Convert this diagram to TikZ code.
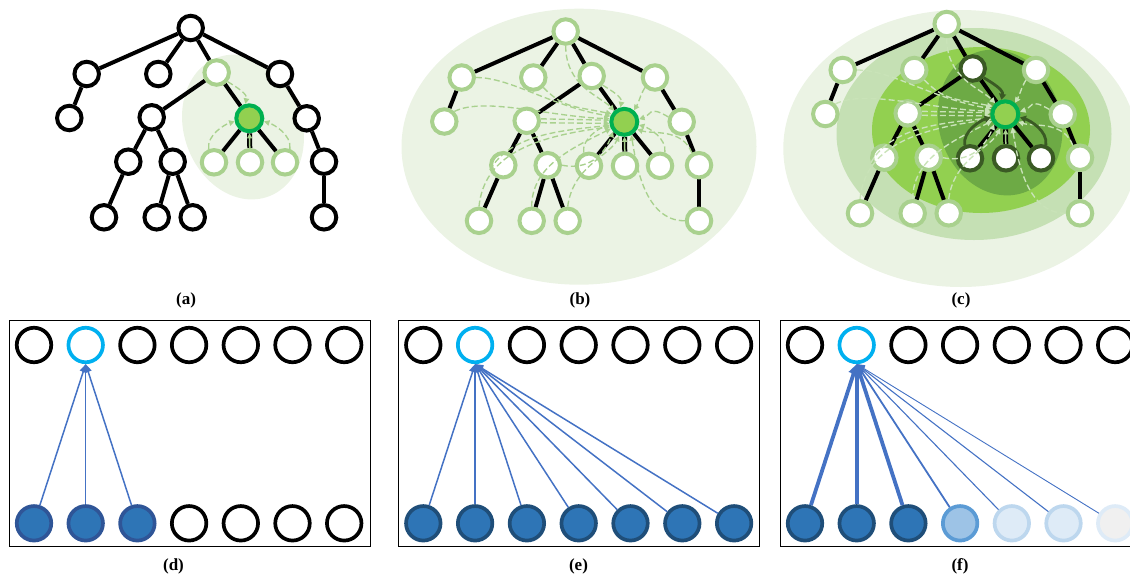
\documentclass[tikz,border=0pt]{standalone}
\usepackage{fontspec}
\setmainfont{Liberation Serif}
\usetikzlibrary{arrows.meta}
\pgfdeclarelayer{bg}
\pgfdeclarelayer{edgelayer}
\pgfsetlayers{bg,edgelayer,main}

\definecolor{paleg}{HTML}{EBF3E4}
\definecolor{softg}{HTML}{C5E0B4}
\definecolor{limeg}{HTML}{92D050}
\definecolor{midg}{HTML}{6DAA45}
\definecolor{ringg}{HTML}{A9D18E}
\definecolor{hotg}{HTML}{00B050}
\definecolor{darkg}{HTML}{3A5A24}
\definecolor{dashpale}{HTML}{C9E3B8}
\definecolor{skyb}{HTML}{00B0F0}
\definecolor{linkb}{HTML}{4472C4}
\definecolor{fillb}{HTML}{2E75B6}
\definecolor{rimb}{HTML}{1F4E79}
\definecolor{rimbb}{HTML}{2F5597}
\definecolor{paleb}{HTML}{9DC3E6}
\definecolor{paleb2}{HTML}{5B9BD5}
\definecolor{iceb}{HTML}{DEEBF7}
\definecolor{iceb2}{HTML}{BDD7EE}
\definecolor{greyf}{HTML}{F0F0F0}

% one tree: node kinds are styled per panel (far, par, kid)
\newcommand\treeplot{%
  \node[far] (r)  at (190.7,28) {};
  \node[far] (a1) at (86.7,74) {};
  \node[far] (a2) at (158.3,74) {};
  \node[par] (p)  at (216.7,72.5) {};
  \node[far] (a4) at (280,74) {};
  \node[far] (b1) at (69.3,118) {};
  \node[far] (b2) at (151.7,117.3) {};
  \node[ctrn] (c) at (249.3,118.3) {};
  \node[far] (b4) at (306.7,118.3) {};
  \node[far] (d1) at (128.3,161.7) {};
  \node[far] (d2) at (172.7,161.7) {};
  \node[kid] (k1) at (214,162.3) {};
  \node[kid] (k2) at (250,162.3) {};
  \node[kid] (k3) at (285,162.3) {};
  \node[far] (d6) at (324,161.7) {};
  \node[far] (e1) at (104,217.3) {};
  \node[far] (e2) at (156.7,217.3) {};
  \node[far] (e3) at (192.7,217.3) {};
  \node[far] (e4) at (324,217.3) {};
  \begin{pgfonlayer}{edgelayer}
    \foreach \u/\v in {r/a1,r/a2,r/p,r/a4,a1/b1,p/b2,p/c,a4/b4,b2/d1,b2/d2,
                       c/k1,c/k3,b4/d6,d1/e1,d2/e2,d2/e3,d6/e4}
      \draw[treeedge] (\u) -- (\v);
    \draw[line width=5pt] (c) -- (k2);
  \end{pgfonlayer}
  \draw[line width=1.5pt, ringg, -{Triangle[length=5pt,width=5pt]}] (k2) -- (c);
}

% messages from parent and side children into the centre node
\newcommand\famarcs[1]{%
  \draw[#1] (p.-40) .. controls +(10,6) and +(2,-10) .. (c.105);
  \draw[#1] (k1.112) .. controls +(-2,-14) and +(-10,3) .. (c.192);
  \draw[#1] (k3.70) .. controls +(2,-14) and +(10,3) .. (c.-12);
}

% messages from the rest of the tree into the centre node
\newcommand\spread[1]{%
  \draw[#1] (a1.east) .. controls +(35,0) and +(-60,-10) .. (c.158);
  \draw[#1] (b1.north east) .. controls +(30,-15) and +(-60,-2) .. (c.168);
  \draw[#1] (a2.south east) .. controls +(20,20) and +(-40,-8) .. (c.148);
  \draw[#1] (r.south) .. controls +(0,40) and +(-15,-15) .. (c.132);
  \draw[#1] (b2.8) -- (c.174);
  \draw[#1] (b2.-8) -- (c.186);
  \draw[#1] (d1.200) .. controls +(20,-35) and +(-50,5) .. (c.194);
  \draw[#1] (e1.north) .. controls +(5,-50) and +(-80,10) .. (c.200);
  \draw[#1] (e2.north) .. controls +(0,-40) and +(-40,20) .. (c.207);
  \draw[#1] (d2.east) .. controls +(25,5) and +(-10,25) .. (c.222);
  \draw[#1] (e3.north) .. controls +(5,-40) and +(-10,20) .. (c.250);
  \draw[#1] (a4.south west) .. controls +(-5,8) and +(5,-8) .. (c.50);
  \draw[#1] (b4.160) .. controls +(-20,-12) and +(12,-4) .. (c.10);
  \draw[#1] (d6.120) .. controls +(-10,-25) and +(15,5) .. (c.-30);
  \draw[#1] (e4.west) .. controls +(-40,0) and +(5,30) .. (c.-62);
}

\begin{document}
\begin{tikzpicture}[x=1pt,y=-1pt,
  tn/.style={circle, minimum size=24.5pt, inner sep=0pt, line width=4pt, fill=white, draw=black},
  ctrn/.style={circle, minimum size=26pt, inner sep=0pt, line width=4pt, fill=limeg, draw=hotg},
  treeedge/.style={line width=4pt, black},
  dl/.style={draw=ringg, line width=1.35pt, dash pattern=on 6pt off 3pt, -{Triangle[length=5.5pt,width=5.5pt]}},
  dlc/.style={dl, draw=dashpale},
  darkarc/.style={draw=darkg, line width=2.8pt, -{Triangle[length=6pt,width=7pt]}},
  hollow/.style={circle, minimum size=34.5pt, inner sep=0pt, line width=3.7pt, draw=black, fill=white},
  bluedot/.style={circle, minimum size=34.5pt, inner sep=0pt, line width=3.7pt, draw=rimb, fill=fillb},
  boxframe/.style={draw=black, line width=1pt},
  lk/.style={draw=linkb, line width=1.5pt, -{Triangle[length=8pt,width=7pt]}},
  captext/.style={font=\fontsize{17}{20}\selectfont\bfseries, inner sep=0pt}]
\path[use as bounding box] (0,0) rectangle (1130,574);

% ---------- backgrounds of the three tree panels
\begin{pgfonlayer}{bg}
  \fill[paleg, rotate around={20:(243,127)}] (243,127) ellipse [x radius=59, y radius=74];
  \fill[paleg] (579,146.7) ellipse [x radius=177.5, y radius=138];
  \begin{scope}
    \clip (760,0) rectangle (1130,300);
    \fill[paleg] (960.8,148.5) ellipse [x radius=177.5, y radius=138.5];
    \fill[softg] (974,134) ellipse [x radius=137.5, y radius=106];
    \fill[limeg] (981,130) ellipse [x radius=109, y radius=83];
    \fill[midg, rotate around={18:(1000,122.5)}] (1000,122.5) ellipse [x radius=61, y radius=74];
  \end{scope}
\end{pgfonlayer}

% ---------- (a) one-hop neighbourhood
\begin{scope}[name prefix=a-, far/.style={tn}, par/.style={tn, draw=ringg}, kid/.style={tn, draw=ringg}]
  \treeplot
  \famarcs{dl}
\end{scope}

% ---------- (b) whole tree
\begin{scope}[shift={(375,3.5)}, name prefix=b-, far/.style={tn, draw=ringg},
              par/.style={tn, draw=ringg}, kid/.style={tn, draw=ringg}]
  \treeplot
  \spread{dl}
  \famarcs{dl}
\end{scope}

% ---------- (c) whole tree, weighted by distance
\begin{scope}[shift={(756,-4)}, name prefix=c-, far/.style={tn, draw=ringg},
              par/.style={tn, draw=darkg}, kid/.style={tn, draw=darkg}]
  \treeplot
  \spread{dlc}
  \famarcs{darkarc}
\end{scope}

\node[captext] (capa) at (186,300) {(a)};
\node[captext] (capb) at (580,300) {(b)};
\node[captext] (capc) at (961,300) {(c)};

% ---------- (d) local window
\draw[boxframe] (9,320) rectangle (370,546.7);
\foreach \i in {0,2,3,4,5,6} \node[hollow] (d-t\i) at ({34+51.7*\i},345) {};
\node[hollow, draw=skyb] (d-t1) at (85.7,345) {};
\foreach \i in {0,1,2} \node[bluedot, draw=rimbb] (d-b\i) at ({34+51.7*\i},523.3) {};
\foreach \i in {3,...,6} \node[hollow] (d-b\i) at ({34+51.7*\i},523.3) {};
\foreach \i in {0,1,2} \draw[lk] (d-b\i) -- (d-t1.south);
\node[captext] (capd) at (173.5,566) {(d)};

% ---------- (e) full attention
\draw[boxframe] (398.3,320) rectangle (759.3,546.7);
\foreach \i in {0,2,3,4,5,6} \node[hollow] (e-t\i) at ({423.3+51.8*\i},345) {};
\node[hollow, draw=skyb] (e-t1) at (475.1,345) {};
\foreach \i in {0,...,6} \node[bluedot] (e-b\i) at ({423.3+51.8*\i},523.3) {};
\foreach \i in {0,...,6} \draw[lk] (e-b\i) -- (e-t1.south);
\node[captext] (cape) at (578.5,566) {(e)};

% ---------- (f) weighted attention
\draw[boxframe] (780,320) rectangle (1141,546.7);
\foreach \i in {0,2,3,4,5,6} \node[hollow] (f-t\i) at ({805+51.7*\i},345) {};
\node[hollow, draw=skyb] (f-t1) at (856.7,345) {};
\foreach \i in {0,1,2} \node[bluedot] (f-b\i) at ({805+51.7*\i},523.3) {};
\node[bluedot, fill=paleb, draw=paleb2] (f-b3) at (960.1,523.3) {};
\node[bluedot, fill=iceb, draw=iceb2] (f-b4) at (1011.8,523.3) {};
\node[bluedot, fill=iceb, draw=iceb2] (f-b5) at (1063.5,523.3) {};
\node[bluedot, fill=greyf, draw=iceb] (f-b6) at (1115.2,523.3) {};
\foreach \i in {0,1,2}
  \draw[lk, line width=3.8pt, -{Triangle[length=10pt,width=10pt]}] (f-b\i) -- (f-t1.south);
\draw[lk, line width=1.8pt] (f-b3) -- (f-t1.south);
\draw[lk, line width=1.1pt] (f-b4) -- (f-t1.south);
\draw[lk, line width=1.1pt] (f-b5) -- (f-t1.south);
\draw[lk, line width=0.9pt] (f-b6) -- (f-t1.south);
\node[captext] (capf) at (960,566) {(f)};
\end{tikzpicture}
\end{document}
